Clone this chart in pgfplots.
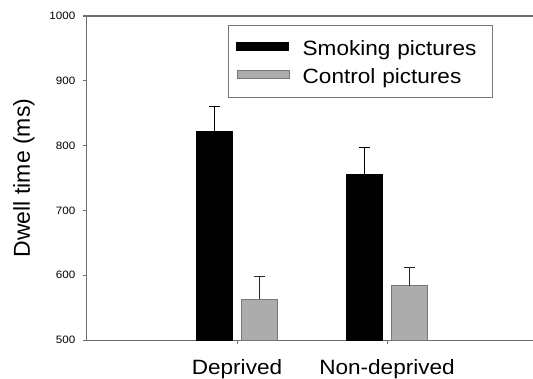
\documentclass[border=0pt]{standalone}
\usepackage{fontspec}
\setmainfont[FakeStretch=1.09]{Liberation Sans}
\newfontfamily\ylabfont{Liberation Sans}
\usepackage{pgfplots}
\pgfplotsset{compat=1.18}
\definecolor{axgray}{RGB}{110,110,110}
\definecolor{ctrlfill}{RGB}{172,172,172}
\definecolor{ctrldraw}{RGB}{120,120,120}
\begin{document}
\begin{tikzpicture}
\begin{axis}[
  scale only axis,
  width=480pt, height=324pt,
  xmin=0, xmax=3.2,
  ymin=500, ymax=1000,
  ytick={500,600,...,1000},
  xtick={1,2},
  xticklabels={Deprived,Non-deprived},
  ytick pos=left, xtick pos=bottom,
  tick align=outside,
  major tick length=4pt,
  axis line style={axgray, line width=1pt},
  every tick/.style={axgray, line width=1pt},
  /pgf/number format/assume math mode=true,
  /pgf/number format/1000 sep={},
  yticklabel style={font=\fontsize{10.7}{12}\selectfont, inner sep=0pt, xshift=-7.5pt},
  xticklabel style={font=\fontsize{20.7}{24}\selectfont, inner sep=0pt, yshift=-15pt},
  every axis y label/.style={at={(axis description cs:-0.13125,0.5)}, rotate=90, anchor=center, font=\ylabfont\fontsize{23}{27}\selectfont},
  ylabel={Dwell time (ms)},
  ybar=8.5pt, bar width=36.5pt,
  legend style={
    at={(0.2931,0.9722)}, anchor=north west,
    draw=ctrldraw, line width=1pt, fill=white,
    inner xsep=8.3pt, inner ysep=9.4pt,
    column sep=13.4pt, row sep=2.7pt,
    cells={anchor=base west},
    nodes={inner sep=0pt, text height=20.6pt, text depth=4.5pt, text width=181.5pt},
    font=\fontsize{20.7}{24}\selectfont,
  },
]
\addplot[fill=black, draw=black, line width=0.8pt,
  legend image code/.code={\fill[black] (0pt,5pt) rectangle (52pt,13pt);},
  error bars/.cd, y dir=plus, y explicit,
  error bar style={black, line width=1pt},
  error mark options={black, line width=1pt, mark size=5.5pt, rotate=90}]
coordinates {(1,822) +- (0,39) (2,755) +- (0,42)};
\addlegendentry{Smoking pictures}
\addplot[fill=ctrlfill, draw=ctrldraw, line width=0.8pt,
  legend image code/.code={\filldraw[fill=ctrlfill, draw=ctrldraw, line width=0.6pt] (0pt,5pt) rectangle (52pt,13pt);},
  error bars/.cd, y dir=plus, y explicit,
  error bar style={black!85, line width=1pt},
  error mark options={black!85, line width=1pt, mark size=5.5pt, rotate=90}]
coordinates {(1,563) +- (0,35) (2,584) +- (0,28)};
\addlegendentry{Control pictures}
\end{axis}
\draw[color=axgray, line width=1.3pt] ([xshift=-4pt]current axis.north west) -- ([xshift=-33pt]current axis.north east);
\pgfresetboundingbox
\path[use as bounding box] ([xshift=-87pt,yshift=-38pt]current axis.south west) rectangle ([xshift=-34pt,yshift=16pt]current axis.north east);
\end{tikzpicture}
\end{document}
